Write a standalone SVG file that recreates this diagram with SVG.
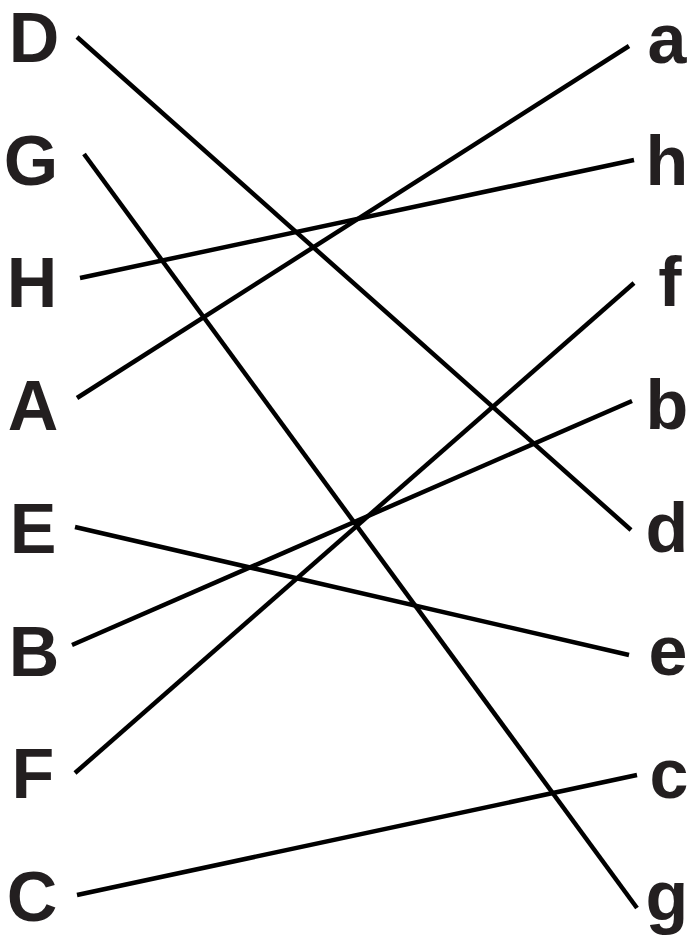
<svg xmlns="http://www.w3.org/2000/svg" width="689" height="940" viewBox="0 0 689 940">
<style>
.lbl{font-family:"Liberation Sans","DejaVu Sans",sans-serif;font-weight:bold;font-size:70px;fill:#231f20;text-anchor:middle}
.ln{stroke:#000;stroke-width:4.5;fill:none}
</style>
<rect width="689" height="940" fill="#fff"/>
<g id="connectors">
<line class="ln" x1="77" y1="37" x2="631" y2="530"/>
<line class="ln" x1="84" y1="154" x2="637" y2="908"/>
<line class="ln" x1="80" y1="278" x2="634" y2="160"/>
<line class="ln" x1="77" y1="398" x2="629" y2="46"/>
<line class="ln" x1="75" y1="527" x2="629" y2="655"/>
<line class="ln" x1="72" y1="645" x2="632" y2="401"/>
<line class="ln" x1="75" y1="773" x2="634" y2="283"/>
<line class="ln" x1="77" y1="895" x2="637" y2="775"/>
</g>
<g id="node-D"><text class="lbl" x="34" y="62">D</text></g>
<g id="node-G"><text class="lbl" x="31" y="185">G</text></g>
<g id="node-H"><text class="lbl" x="32" y="307">H</text></g>
<g id="node-A"><text class="lbl" x="33" y="430">A</text></g>
<g id="node-E"><text class="lbl" x="33" y="553">E</text></g>
<g id="node-B"><text class="lbl" x="34" y="676">B</text></g>
<g id="node-F"><text class="lbl" x="33" y="798">F</text></g>
<g id="node-C"><text class="lbl" x="32" y="921">C</text></g>
<g id="node-a"><text class="lbl" x="667" y="63">a</text></g>
<g id="node-h"><text class="lbl" x="667" y="185">h</text></g>
<g id="node-f"><text class="lbl" x="670" y="306">f</text></g>
<g id="node-b"><text class="lbl" x="667" y="429">b</text></g>
<g id="node-d"><text class="lbl" x="667" y="552">d</text></g>
<g id="node-e"><text class="lbl" x="668" y="675">e</text></g>
<g id="node-c"><text class="lbl" x="669" y="798">c</text></g>
<g id="node-g"><text class="lbl" x="667" y="920">g</text></g>
</svg>
